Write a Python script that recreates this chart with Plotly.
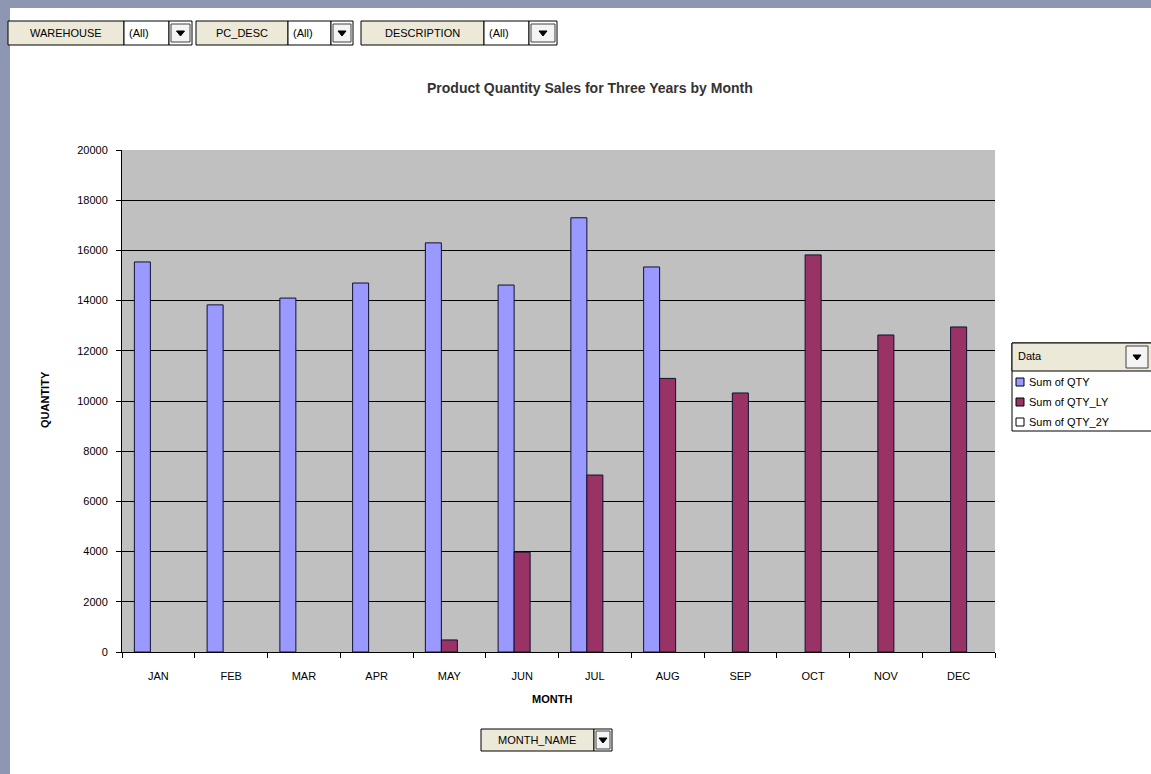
import plotly.graph_objects as go

months = ["JAN", "FEB", "MAR", "APR", "MAY", "JUN", "JUL", "AUG", "SEP", "OCT", "NOV", "DEC"]
qty = [15540, 13830, 14100, 14700, 16300, 14620, 17300, 15340, None, None, None, None]
qty_ly = [None, None, None, None, 480, 3980, 7050, 10900, 10320, 15820, 12630, 12950]
qty_2y = [None] * 12
series_names = ["Sum of QTY", "Sum of QTY_LY", "Sum of QTY_2Y"]
series_colors = ["#9999ff", "#993366", "#ffffff"]

W, H = 1151, 774
L, R, T, B = 122, 995, 150, 652
FONT = "Liberation Sans, Arial, sans-serif"

def px(x):
    return (x - L) / (R - L)

def py(y):
    return (B - y) / (B - T)

fig = go.Figure()
for name, vals, col in zip(series_names, [qty, qty_ly, qty_2y], series_colors):
    fig.add_trace(go.Bar(x=months, y=vals, name=name, marker_color=col,
                         marker_line_color="#101030", marker_line_width=1,
                         showlegend=False))

shapes = []
annotations = []

def rect(x0, y0, x1, y1, fill, line="#000000", lw=1):
    shapes.append(dict(type="rect", xref="paper", yref="paper",
                       x0=px(x0), x1=px(x1), y0=py(y0), y1=py(y1),
                       fillcolor=fill, line=dict(color=line, width=lw), layer="above"))

def text(x, y, s, size=11, bold=False, anchor="left", color="#000000", angle=0):
    annotations.append(dict(xref="paper", yref="paper", x=px(x), y=py(y),
                            text=f"<b>{s}</b>" if bold else s, showarrow=False,
                            xanchor=anchor, yanchor="middle", textangle=angle,
                            font=dict(family=FONT, size=size, color=color)))

def arrow_button(x0, y0, x1, y1):
    rect(x0, y0, x1, y1, "#f4f4f4", "#404040", 1)
    cx, cy = (x0 + x1) / 2, (y0 + y1) / 2
    shapes.append(dict(type="path", xref="paper", yref="paper",
                       path=f"M {px(cx-4)},{py(cy-2)} L {px(cx+4)},{py(cy-2)} L {px(cx)},{py(cy+3)} Z",
                       fillcolor="#000000", line=dict(color="#000000", width=1), layer="above"))

# outer window strips
rect(0, 0, 10, H, "#8d97b1", "#8d97b1", 0)
rect(0, 0, W, 8, "#8d97b1", "#8d97b1", 0)

# page field filters (top)
filters = [("WAREHOUSE", 8, 124, 169, 192), ("PC_DESC", 196, 288, 331, 353), ("DESCRIPTION", 361, 484, 529, 557)]
for lab, a, b, c, d in filters:
    rect(a, 21, b, 45, "#ece9d8", "#000000", 1)
    text((a + b) / 2, 33, lab, size=11, anchor="center")
    rect(b, 21, c, 45, "#ffffff", "#000000", 1)
    text(b + 3, 33, "(All)", size=11)
    rect(c, 21, d, 45, "#ffffff", "#000000", 1)
    arrow_button(c + 2, 24, d - 2, 42)

# row field (bottom)
rect(481, 729, 594, 751, "#ece9d8", "#000000", 1)
text(537, 740, "MONTH_NAME", size=11, anchor="center")
rect(594, 729, 612, 751, "#ffffff", "#000000", 1)
arrow_button(596, 731, 610, 749)

# legend
rect(1012, 343, 1152, 431, "#ffffff", "#000000", 1)
rect(1012, 343, 1152, 371, "#ece9d8", "#000000", 1)
text(1016, 356, "Data", size=11)
arrow_button(1126, 346, 1148, 368)
for i, (name, col) in enumerate(zip(series_names, series_colors)):
    yy = 382 + i * 20
    rect(1016, yy - 4, 1024, yy + 4, col, "#000000", 1)
    text(1027, yy, name, size=11)

# titles
text(590, 88, "Product Quantity Sales for Three Years by Month", size=14, bold=True,
     anchor="center", color="#333333")
text(45, 400, "QUANTITY", size=11, bold=True, anchor="center", angle=-90)
text(552, 699, "MONTH", size=11, bold=True, anchor="center")

fig.update_layout(
    width=W, height=H,
    margin=dict(l=L, r=W - R, t=T, b=H - B, pad=0),
    paper_bgcolor="#ffffff", plot_bgcolor="#c0c0c0",
    barmode="group", bargap=0.34, bargroupgap=0,
    font=dict(family=FONT, size=11, color="#000000"),
    shapes=shapes, annotations=annotations,
    xaxis=dict(type="category", showline=True, linecolor="#000000", linewidth=1,
               ticks="outside", ticklen=5, tickcolor="#000000", tickson="boundaries",
               showgrid=False, tickfont=dict(size=11), ticklabelstandoff=14),
    yaxis=dict(range=[0, 20000], dtick=2000, tickformat="d", showline=True, linecolor="#000000",
               linewidth=1, ticks="outside", ticklen=5, tickcolor="#000000",
               showgrid=True, gridcolor="#000000", gridwidth=1, zeroline=False,
               tickfont=dict(size=11), ticklabelstandoff=6),
)

fig.write_html("out.html", config={"displayModeBar": False},
               post_script="document.body.style.margin='0';document.body.style.overflow='hidden';")
